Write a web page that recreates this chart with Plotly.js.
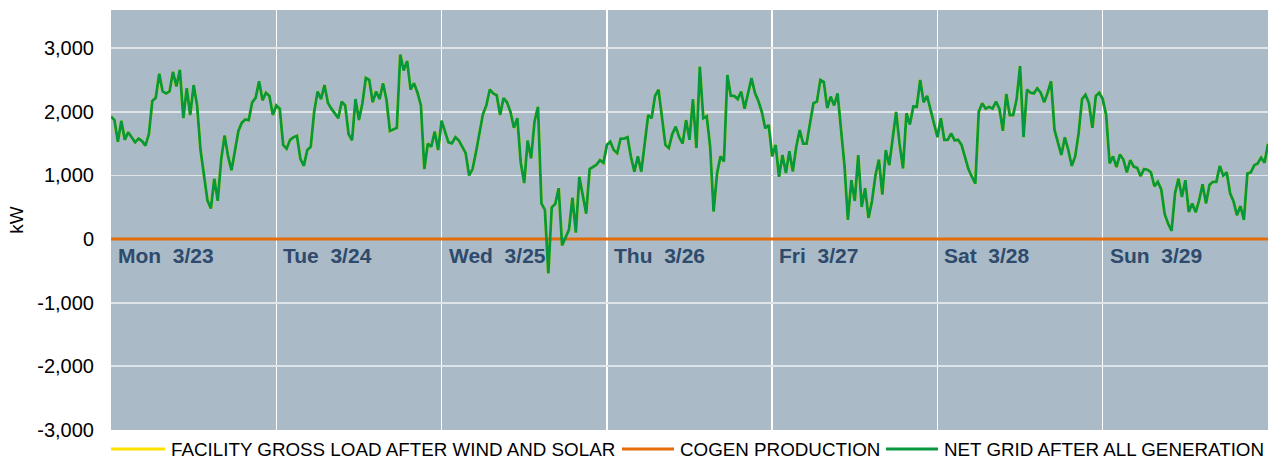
<!DOCTYPE html>
<html>
<head>
<meta charset="utf-8">
<script src="https://cdn.plot.ly/plotly-3.0.1.min.js"></script>
<style>
  html, body { margin: 0; padding: 0; background: #ffffff; }
  #chart { width: 1275px; height: 460px; }
</style>
</head>
<body>
<div id="chart"></div>
<script>
// Half-hourly readings (kW), NET GRID AFTER ALL GENERATION, one array per day (00:00 ... 23:30)
const netMon = [1925,1870,1530,1860,1560,1680,1600,1520,1580,1540,1470,1650,2170,2220,2600,2320,2290,2320,2630,2400,2660,1900,2370,1950,2420,2100,1400,1000,610,480,950,600,1250,1630,1300,1080,1380,1700,1830,1880,1870,2150,2220,2480,2180,2300,2250,1950];
const netTue = [2100,2050,1480,1420,1560,1600,1620,1260,1150,1400,1450,2000,2320,2200,2420,2140,2050,1980,1900,2160,2100,1650,1550,2200,1870,2130,2530,2500,2150,2320,2200,2450,2190,1700,1720,1750,2900,2650,2800,2350,2450,2300,2100,1100,1500,1450,1690,1400];
const netWed = [1860,1700,1520,1505,1600,1550,1440,1350,1000,1100,1370,1650,1960,2100,2350,2290,2260,1950,2215,2150,2000,1750,1900,1200,880,1550,1268,1850,2080,560,460,-540,500,550,800,-100,40,150,650,100,980,700,400,1100,1140,1170,1240,1200];
const netThu = [1480,1530,1400,1350,1580,1580,1600,1290,1060,1300,1060,1500,1950,1900,2250,2350,1900,1480,1430,1650,1767,1600,1500,1870,1560,2200,1430,2710,1900,1930,1450,430,1030,1300,1220,2580,2250,2250,2200,2320,2050,2270,2530,2300,2170,2000,1740,1794];
const netFri = [1300,1480,980,1320,1040,1380,1060,1450,1715,1500,1500,1820,2135,2160,2500,2470,2057,2240,2100,2290,1700,1160,300,926,600,1320,505,800,330,600,1000,1250,700,1400,1160,1557,2000,1500,1110,1978,1800,2083,2080,2500,2150,2250,2030,1800];
const netSat = [1600,1900,1560,1560,1660,1550,1560,1480,1270,1100,980,870,2000,2135,2050,2080,2050,2160,2050,1700,2280,1950,1950,2200,2720,1600,2350,2300,2290,2370,2300,2150,2300,2480,1715,1500,1320,1600,1400,1150,1300,1660,2200,2267,2135,1750,2250,2300];
// Sunday, plus the closing reading at Mon 3/30 00:00
const netSun = [2200,1950,1190,1300,1130,1330,1250,1050,1240,1140,1120,990,1100,1090,1050,830,900,780,390,240,130,720,950,663,926,426,560,420,610,860,560,850,900,900,1150,1000,1050,720,590,373,520,300,1030,1050,1160,1190,1280,1200,1500];

// COGEN PRODUCTION (kW), daily readings 3/23 00:00 ... 3/30 00:00
const cogen = [0,0,0,0,0,0,0,0];

// Day labels
const dayNames = ['Mon','Tue','Wed','Thu','Fri','Sat','Sun'];
const dayDates = ['3/23','3/24','3/25','3/26','3/27','3/28','3/29'];

// Y axis ticks
const yTickVals = [-3000,-2000,-1000,0,1000,2000,3000];
const yTickText = ['-3,000','-2,000','-1,000','0','1,000','2,000','3,000'];

// Series names
const seriesNames = ['FACILITY GROSS LOAD AFTER WIND AND SOLAR','COGEN PRODUCTION','NET GRID AFTER ALL GENERATION'];
const seriesColors = ['#FFE100','#E46C0A','#07973F'];

const startMs = Date.UTC(2020, 2, 23);
const HALF_HOUR = 30 * 60 * 1000;
const DAY = 24 * 60 * 60 * 1000;

const netGrid = [].concat(netMon, netTue, netWed, netThu, netFri, netSat, netSun);
const times = netGrid.map((_, i) => startMs + i * HALF_HOUR);
const dayTimes = cogen.map((_, i) => startMs + i * DAY);
// Gross load after wind & solar = net grid + cogen (cogen is zero all week)
const grossLoad = netGrid.map((v, i) => v + cogen[Math.min(Math.floor(i / 48), cogen.length - 1)]);

const traces = [
  { type: 'scatter', mode: 'lines', name: seriesNames[0], x: times, y: grossLoad,
    line: { color: seriesColors[0], width: 3 }, hoverinfo: 'skip' },
  { type: 'scatter', mode: 'lines', name: seriesNames[1], x: dayTimes, y: cogen,
    line: { color: seriesColors[1], width: 3 } },
  { type: 'scatter', mode: 'lines', name: seriesNames[2], x: times, y: netGrid,
    line: { color: seriesColors[2], width: 2.8 } }
];

const font = 'Liberation Sans, Arial, sans-serif';

const annotations = dayNames.map((d, i) => ({
  xref: 'x', yref: 'y', x: startMs + i * DAY, y: -265,
  xanchor: 'left', yanchor: 'middle', xshift: 5, showarrow: false,
  text: '<b>' + d + '\u00a0\u00a0' + dayDates[i] + '</b>',
  font: { family: font, size: 21, color: '#2E4A6C' }
}));

// custom legend (paper coordinates)
const plotL = 111, plotW = 1157, plotT = 10, plotH = 420;
const px = v => (v - plotL) / plotW;
const py = v => (plotT + plotH - v) / plotH;
const legY = py(449);
const legItems = [
  { x0: 111, x1: 165, tx: 169 },
  { x0: 622, x1: 674, tx: 678 },
  { x0: 886, x1: 938, tx: 942 }
];
const shapes = legItems.map((it, i) => ({
  type: 'line', xref: 'paper', yref: 'paper',
  x0: px(it.x0), x1: px(it.x1), y0: legY, y1: legY,
  line: { color: seriesColors[i], width: 3 }
}));
legItems.forEach((it, i) => annotations.push({
  xref: 'paper', yref: 'paper', x: px(it.tx), y: legY,
  xanchor: 'left', yanchor: 'middle', showarrow: false,
  text: seriesNames[i],
  font: { family: font, size: 18.8, color: '#000000' }
}));

const layout = {
  width: 1275, height: 460,
  margin: { l: 111, r: 7, t: 10, b: 30, pad: 0 },
  paper_bgcolor: '#FFFFFF',
  plot_bgcolor: '#AABAC7',
  showlegend: false,
  font: { family: font, size: 20, color: '#000000' },
  xaxis: {
    type: 'date',
    range: [startMs, startMs + 7 * DAY],
    tick0: startMs, dtick: DAY,
    showticklabels: false, ticks: '',
    showgrid: true, gridcolor: '#FFFFFF', gridwidth: 1.5,
    zeroline: false, showline: false, fixedrange: true
  },
  yaxis: {
    range: [-3000, 3600],
    tickmode: 'array', tickvals: yTickVals, ticktext: yTickText,
    ticks: '', ticklabelstandoff: 16,
    tickfont: { family: font, size: 20, color: '#000000' },
    showgrid: true, gridcolor: '#DFE4E9', gridwidth: 1.8,
    zeroline: false, showline: false, fixedrange: true,
    title: { text: 'kW', font: { family: font, size: 19, color: '#000000' }, standoff: 8 }
  },
  annotations: annotations,
  shapes: shapes
};

Plotly.newPlot('chart', traces, layout, { displayModeBar: false, staticPlot: true });
</script>
</body>
</html>
